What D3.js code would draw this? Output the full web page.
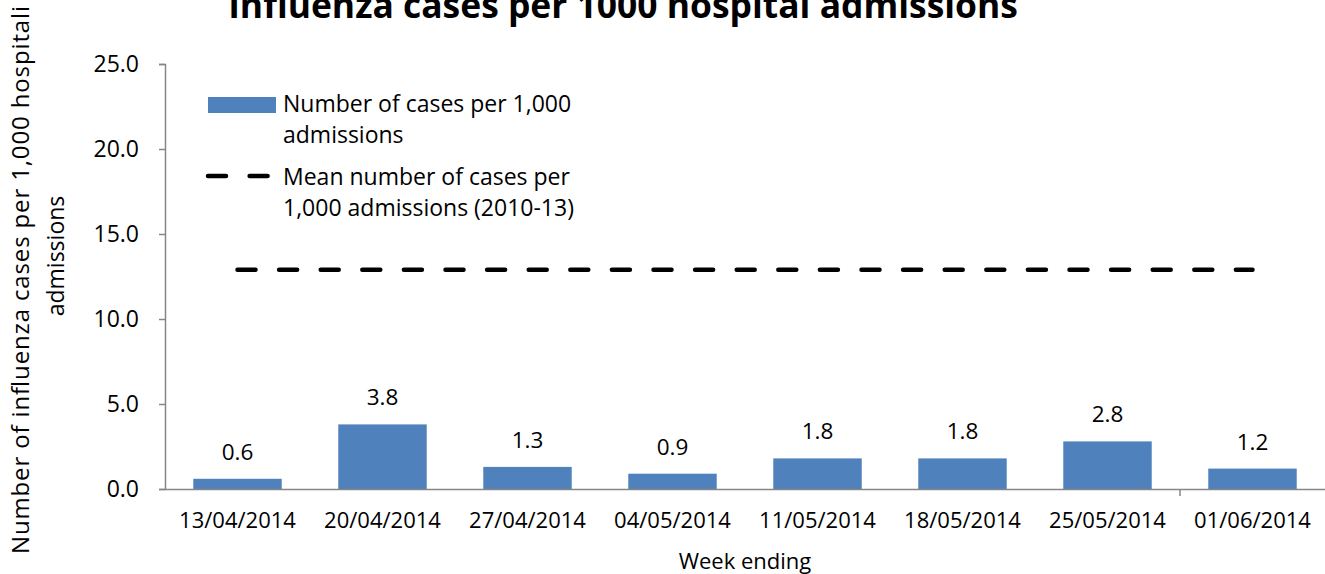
<!DOCTYPE html>
<html>
<head>
<meta charset="utf-8">
<script src="https://cdn.jsdelivr.net/npm/d3@7"></script>
<style>
  body { margin: 0; background: #fff; }
  svg text { font-family: "Open Sans", "Noto Sans", sans-serif; fill: #000; }
</style>
</head>
<body>
<div id="container"></div>
<script>
// chart data
const weeks = ["13/04/2014", "20/04/2014", "27/04/2014", "04/05/2014",
               "11/05/2014", "18/05/2014", "25/05/2014", "01/06/2014"];
const casesPer1000 = [0.6, 3.8, 1.3, 0.9, 1.8, 1.8, 2.8, 1.2];
const meanPer1000 = [12.9, 12.9, 12.9, 12.9, 12.9, 12.9, 12.9, 12.9];
const yTicks = [0, 5, 10, 15, 20, 25];

// canvas
const w = 1325;
const h = 574;
const plotLeft = 165, plotRight = 1325, plotTop = 64, plotBottom = 489;

const svg = d3.select("#container")
              .append("svg")
              .attr("width", w)
              .attr("height", h);

// scales
const xScale = d3.scaleBand()
                 .domain(weeks)
                 .range([plotLeft, plotRight])
                 .paddingInner(0.39)
                 .paddingOuter(0.195);

const yScale = d3.scaleLinear()
                 .domain([0, 25])
                 .range([plotBottom, plotTop]);

// bars
svg.selectAll("rect.bar")
   .data(weeks)
   .enter()
   .append("rect")
   .attr("class", "bar")
   .attr("x", (d) => xScale(d))
   .attr("y", (d, i) => yScale(casesPer1000[i]))
   .attr("width", xScale.bandwidth())
   .attr("height", (d, i) => plotBottom - yScale(casesPer1000[i]))
   .attr("fill", "#4f81bd");

// bar labels
svg.selectAll("text.val")
   .data(weeks)
   .enter()
   .append("text")
   .attr("class", "val")
   .attr("x", (d) => xScale(d) + xScale.bandwidth() / 2)
   .attr("y", (d, i) => yScale(casesPer1000[i]) - 19)
   .attr("text-anchor", "middle")
   .style("font-size", "22.5px")
   .text((d, i) => casesPer1000[i].toFixed(1));

// mean line (dashed)
const meanLine = d3.line()
                   .x((d, i) => xScale(weeks[i]) + xScale.bandwidth() / 2)
                   .y((d) => yScale(d));

svg.append("path")
   .datum(meanPer1000)
   .attr("d", meanLine)
   .attr("fill", "none")
   .attr("stroke", "#000")
   .attr("stroke-width", 4.5)
   .attr("stroke-linecap", "round")
   .attr("stroke-dasharray", "18,23.6");

// axes
const yAxis = d3.axisLeft(yScale)
                .tickValues(yTicks)
                .tickFormat(d3.format(".1f"))
                .tickSize(6)
                .tickPadding(20);

const gy = svg.append("g")
   .attr("transform", "translate(" + plotLeft + ", 0)")
   .call(yAxis);
gy.select(".domain").attr("stroke", "#868686").attr("stroke-width", 1.5);
gy.selectAll(".tick line").attr("stroke", "#868686").attr("stroke-width", 1.5);
gy.selectAll(".tick text").style("font-size", "23px").attr("fill", "#000");

const xAxis = d3.axisBottom(xScale)
                .tickSize(0)
                .tickSizeOuter(0)
                .tickPadding(23);

const gx = svg.append("g")
   .attr("transform", "translate(0, " + plotBottom + ")")
   .call(xAxis);
gx.select(".domain").attr("stroke", "#868686").attr("stroke-width", 1.5);
gx.selectAll(".tick text").style("font-size", "22px").attr("fill", "#000");

// the single visible category divider tick
const gapX = xScale(weeks[7]) - xScale.step() * xScale.paddingInner() / 2;
gx.append("line")
  .attr("x1", gapX).attr("x2", gapX)
  .attr("y1", 0).attr("y2", 7)
  .attr("stroke", "#868686")
  .attr("stroke-width", 1.5);

// x-axis title
svg.append("text")
   .attr("x", (plotLeft + plotRight) / 2)
   .attr("y", 569)
   .attr("text-anchor", "middle")
   .style("font-size", "22px")
   .text("Week ending");

// y-axis title (two lines, first one runs off the top)
svg.append("text")
   .attr("transform", "translate(29, 554)rotate(-90)")
   .attr("textLength", 548)
   .attr("lengthAdjust", "spacing")
   .style("font-size", "24px")
   .text("Number of influenza cases per 1,000 hospitali");
svg.append("text")
   .attr("transform", "translate(64, 256)rotate(-90)")
   .attr("text-anchor", "middle")
   .style("font-size", "23px")
   .text("admissions");

// chart title, sized to span the same width as the original
const title = svg.append("text")
   .attr("x", 623)
   .attr("y", 18)
   .attr("text-anchor", "middle")
   .style("font-size", "31px")
   .style("font-weight", "bold")
   .text("Influenza cases per 1000 hospital admissions");
const tw = title.node().getComputedTextLength();
title.style("font-size", (31 * 790 / tw) + "px");

// legend
const legend = svg.append("g");
legend.append("rect")
      .attr("x", 208).attr("y", 97)
      .attr("width", 68).attr("height", 16)
      .attr("fill", "#4f81bd");
legend.append("line")
      .attr("x1", 208).attr("x2", 268)
      .attr("y1", 176).attr("y2", 176)
      .attr("stroke", "#000")
      .attr("stroke-width", 4.5)
      .attr("stroke-linecap", "round")
      .attr("stroke-dasharray", "18,23.6");

const legendLines = [
  ["Number of cases per 1,000", 112],
  ["admissions", 143],
  ["Mean number of cases per", 185],
  ["1,000 admissions (2010-13)", 216]
];
legend.selectAll("text")
      .data(legendLines)
      .enter()
      .append("text")
      .attr("x", 283)
      .attr("y", (d) => d[1])
      .style("font-size", "23px")
      .text((d) => d[0]);
</script>
</body>
</html>
